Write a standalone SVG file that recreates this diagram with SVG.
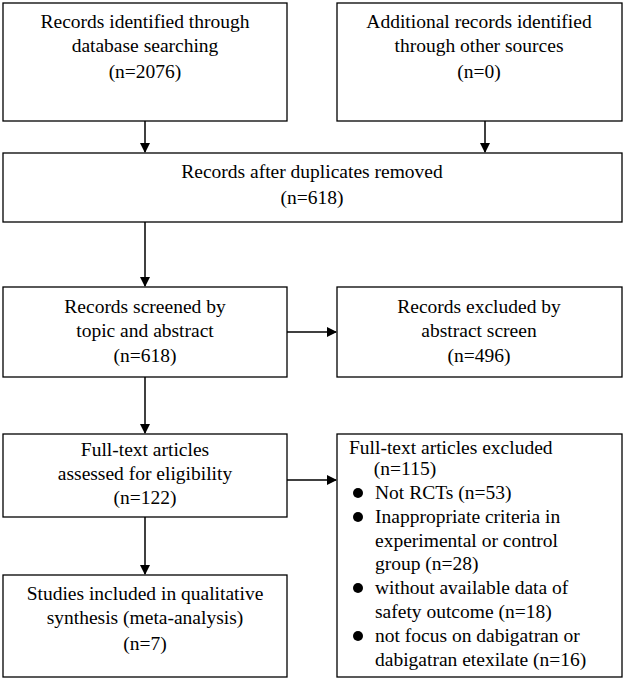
<svg xmlns="http://www.w3.org/2000/svg" width="625" height="680" viewBox="0 0 625 680">
<style>
rect{fill:#fff;stroke:#000;stroke-width:1.3}
text{font-family:"Liberation Serif","Times New Roman",serif;font-size:19.5px;fill:#000}
.c{text-anchor:middle}
line{stroke:#000;stroke-width:1.5}
</style>
<defs><marker id="a" markerWidth="10" markerHeight="10" refX="9" refY="5" orient="auto" markerUnits="userSpaceOnUse"><path d="M0,0 L10,5 L0,10 Z" fill="#000"/></marker></defs>
<rect width="625" height="680" style="stroke:none"/>
<g id="n1"><rect x="3" y="3" width="284" height="118"/><text class="c" x="145" y="28">Records identified through</text><text class="c" x="145" y="52">database searching</text><text class="c" x="145" y="78">(n=2076)</text></g>
<g id="n2"><rect x="337" y="3" width="285" height="118"/><text class="c" x="479" y="28">Additional records identified</text><text class="c" x="479" y="52">through other sources</text><text class="c" x="479" y="78">(n=0)</text></g>
<g id="n3"><rect x="3" y="153" width="619" height="69"/><text class="c" x="312" y="178">Records after duplicates removed</text><text class="c" x="312" y="204">(n=618)</text></g>
<g id="n4"><rect x="3" y="287" width="284" height="90"/><text class="c" x="145" y="313">Records screened by</text><text class="c" x="145" y="337">topic and abstract</text><text class="c" x="145" y="362">(n=618)</text></g>
<g id="n5"><rect x="337" y="287" width="285" height="90"/><text class="c" x="479" y="313">Records excluded by</text><text class="c" x="479" y="337">abstract screen</text><text class="c" x="479" y="362">(n=496)</text></g>
<g id="n6"><rect x="3" y="434" width="284" height="83"/><text class="c" x="145" y="456">Full-text articles</text><text class="c" x="145" y="480">assessed for eligibility</text><text class="c" x="145" y="504">(n=122)</text></g>
<g id="n7"><rect x="337" y="434" width="285" height="243"/>
<text x="349" y="454">Full-text articles excluded</text><text class="c" x="405" y="475">(n=115)</text>
<circle cx="358" cy="493" r="5"/><text x="375" y="499">Not RCTs (n=53)</text>
<circle cx="358" cy="517" r="5"/><text x="375" y="523">Inappropriate criteria in</text>
<text x="375" y="547">experimental or control</text><text x="375" y="570">group (n=28)</text>
<circle cx="358" cy="588" r="5"/><text x="375" y="594">without available data of</text>
<text x="375" y="618">safety outcome (n=18)</text>
<circle cx="358" cy="636" r="5"/><text x="375" y="642">not focus on dabigatran or</text>
<text x="375" y="666">dabigatran etexilate (n=16)</text></g>
<g id="n8"><rect x="3" y="575" width="284" height="102"/><text class="c" x="145" y="600">Studies included in qualitative</text><text class="c" x="145" y="624">synthesis (meta-analysis)</text><text class="c" x="145" y="650">(n=7)</text></g>
<g id="edges">
<line x1="145" y1="121" x2="145" y2="152" marker-end="url(#a)"/>
<line x1="485" y1="121" x2="485" y2="152" marker-end="url(#a)"/>
<line x1="145" y1="222" x2="145" y2="286" marker-end="url(#a)"/>
<line x1="287" y1="332" x2="336" y2="332" marker-end="url(#a)"/>
<line x1="145" y1="377" x2="145" y2="433" marker-end="url(#a)"/>
<line x1="287" y1="480" x2="336" y2="480" marker-end="url(#a)"/>
<line x1="145" y1="517" x2="145" y2="574" marker-end="url(#a)"/>
</g>
</svg>
